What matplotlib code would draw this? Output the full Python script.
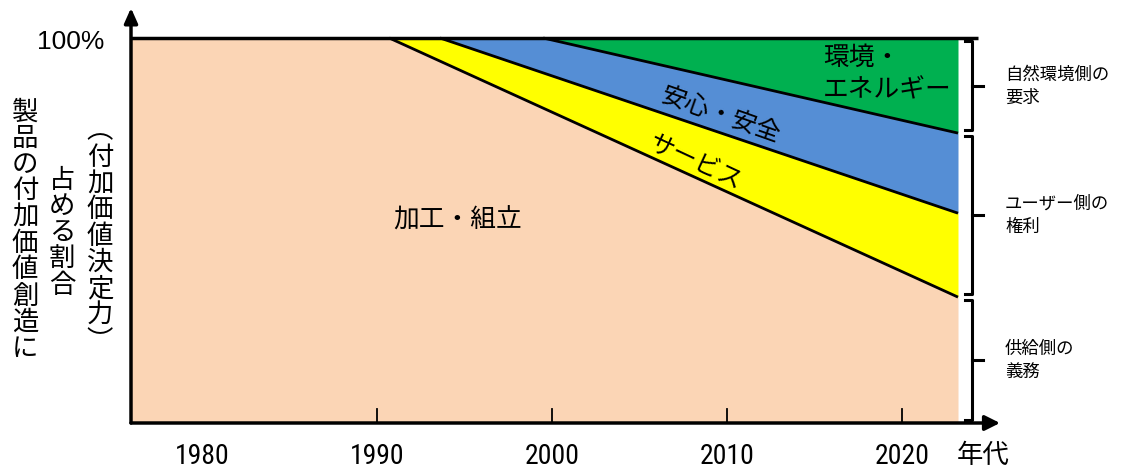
import numpy as np
import matplotlib
matplotlib.use("Agg")
import matplotlib.pyplot as plt
from matplotlib import font_manager as fm

# ---------------- data ----------------
tick_years = [1980, 1990, 2000, 2010, 2020]
tick_labels = ["1980", "1990", "2000", "2010", "2020"]
layer_names = ["加工・組立", "サービス", "安心・安全", "環境・\nエネルギー"]
layer_colors = ["#FBD5B5", "#FFFF00", "#558ED5", "#00B050"]
# year at which each upper boundary leaves 100 %
depart_years = [1990.7, 1993.6, 1999.5]
end_year = 2023.2
# cumulative share at end year (top of 加工・組立, サービス, 安心・安全)
end_levels = [0.327, 0.545, 0.753]
bracket_ranges = [(0.753, 1.0), (0.327, 0.753), (0.0, 0.327)]
bracket_labels = [["自然環境側の", "要求"], ["ユーザー側の", "権利"], ["供給側の", "義務"]]
ylabel_cols = ["製品の付加価値創造に", "占める割合", "︵付加価値決定力︶"]

# ---------------- fonts ----------------
avail = {f.name for f in fm.fontManager.ttflist}
CJK = "Noto Sans CJK JP"
narrow = None
for cand in ["Liberation Sans Narrow", "Roboto Condensed", "Open Sans Condensed"]:
    if cand in avail:
        narrow = cand
        break
plt.rcParams["font.family"] = [CJK, "DejaVu Sans"]

W, H = 1122, 471
fig = plt.figure(figsize=(W / 100, H / 100), dpi=100)

def fx(x):
    return x / W

def fy(y):
    return 1 - y / H

ax_l, ax_r, ax_b, ax_t = 131, 1000, 423, 8
ax = fig.add_axes([fx(ax_l), fy(ax_b), fx(ax_r - ax_l), (ax_b - ax_t) / H])
ppy = 17.5  # pixels per year
x0 = 1980 - (202 - ax_l) / ppy
x1 = 1980 + (ax_r - 202) / ppy
ax.set_xlim(x0, x1)
ax.set_ylim(0, 1 + (38 - ax_t) / 385)
ax.axis("off")

xs = np.array([x0] + depart_years + [end_year])
bounds = [np.zeros_like(xs)]
for dep, lev in zip(depart_years, end_levels):
    bounds.append(np.interp(xs, [x0, dep, end_year], [1.0, 1.0, lev]))
bounds.append(np.ones_like(xs))
for i, c in enumerate(layer_colors):
    ax.fill_between(xs, bounds[i], bounds[i + 1], color=c, lw=0, zorder=1)
for dep, lev in zip(depart_years, end_levels):
    ax.plot([dep, end_year], [1.0, lev], color="black", lw=2.0, zorder=3,
            solid_capstyle="butt")

# top line
ax.plot([x0, 1980 + (978 - 202) / ppy], [1, 1], color="black", lw=2.5, zorder=4,
        clip_on=False, solid_capstyle="butt")
# axes with arrows
ax.annotate("", xy=(x1, 0), xytext=(x0, 0),
            arrowprops=dict(arrowstyle="-|>,head_length=0.9,head_width=0.45", lw=2.5,
                            color="black", shrinkA=0, shrinkB=0), annotation_clip=False,
            zorder=5)
ax.annotate("", xy=(x0, ax.get_ylim()[1]), xytext=(x0, 0),
            arrowprops=dict(arrowstyle="-|>,head_length=0.9,head_width=0.4", lw=2.5,
                            color="black", shrinkA=0, shrinkB=0), annotation_clip=False,
            zorder=5)
# inner ticks
for yr in tick_years[1:]:
    ax.plot([yr, yr], [0, 14 / 385], color="black", lw=1.3, zorder=4)

# tick labels
tick_font = dict(fontsize=20)
if narrow:
    tick_font["family"] = narrow
else:
    tick_font["family"] = "DejaVu Sans"
    tick_font["stretch"] = "condensed"
for yr, lab in zip(tick_years, tick_labels):
    ax.text(yr, -33 / 385, lab, ha="center", va="center", **tick_font)
fig.text(fx(983), fy(455), "年代", ha="center", va="center", fontsize=19)

# 100%
fig.text(fx(104), fy(42), "100%", ha="right", va="center", fontsize=19,
         family=["Liberation Sans", "DejaVu Sans"])

# brackets
bx = 1980 + (972 - 202) / ppy
hook = 1980 + (965 - 202) / ppy
tip = 1980 + (983 - 202) / ppy
for lo, hi in bracket_ranges:
    a = lo + 3 / 385
    b = hi - 3 / 385
    ax.plot([hook, bx, bx, hook], [b, b, a, a], color="black", lw=2.2,
            clip_on=False, zorder=4, solid_joinstyle="round")
    mid = (lo + hi) / 2
    ax.plot([bx, tip], [mid, mid], color="black", lw=2.2, clip_on=False, zorder=4)

for (lo, hi), lines in zip(bracket_ranges, bracket_labels):
    mid = (lo + hi) / 2
    ax.text(1980 + (1005 - 202) / ppy, mid + 11 / 385, lines[0], ha="left", va="center",
            fontsize=12.5, clip_on=False)
    ax.text(1980 + (1005 - 202) / ppy, mid - 12 / 385, lines[1], ha="left", va="center",
            fontsize=12.5, clip_on=False)

# layer labels
fig.text(fx(458), fy(221), layer_names[0], ha="center", va="center", fontsize=18.5)
fig.text(fx(695), fy(162), layer_names[1], ha="center", va="center", fontsize=18,
         rotation=-25, rotation_mode="anchor")
fig.text(fx(720), fy(115), layer_names[2], ha="center", va="center", fontsize=18,
         rotation=-19.5, rotation_mode="anchor")
env = layer_names[3].split("\n")
fig.text(fx(823), fy(58), env[0], ha="left", va="center", fontsize=18.5)
fig.text(fx(823), fy(90), env[1], ha="left", va="center", fontsize=18.5)

# vertical y label columns
col_x = [25, 62, 100]
col_y0 = [112, 180, 131]
step = 26.3
for cx, cy0, s in zip(col_x, col_y0, ylabel_cols):
    for k, ch in enumerate(s):
        fig.text(fx(cx), fy(cy0 + k * step), ch, ha="center", va="center", fontsize=19)

fig.savefig("out.png", dpi=100)
